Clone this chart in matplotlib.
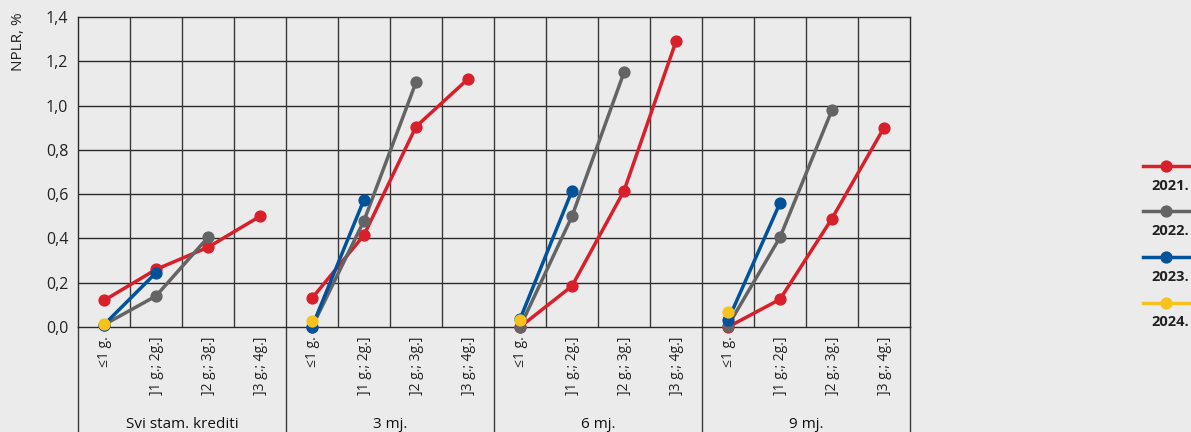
import numpy as np
import matplotlib
matplotlib.use("Agg")
import matplotlib.pyplot as plt
from matplotlib.lines import Line2D

plt.rcParams['font.family'] = ['Open Sans', 'DejaVu Sans']

groups = ['Svi stam. krediti', '3 mj.', '6 mj.', '9 mj.']
cats = ['≤1 g.', ']1 g.; 2g.]', ']2 g.; 3g.]', ']3 g.; 4g.]']
years = ['2021.', '2022.', '2023.', '2024.']
colors = ['#d81f2a', '#646464', '#00529b', '#f8c21c']

# values per year, per group (curves shorten for newer cohorts)
v2021 = [[0.12, 0.26, 0.36, 0.50],
         [0.13, 0.415, 0.905, 1.12],
         [0.0, 0.185, 0.615, 1.29],
         [0.0, 0.125, 0.49, 0.90]]
v2022 = [[0.01, 0.14, 0.405],
         [0.0, 0.48, 1.105],
         [0.0, 0.50, 1.15],
         [0.005, 0.405, 0.98]]
v2023 = [[0.01, 0.245],
         [0.0, 0.575],
         [0.035, 0.615],
         [0.03, 0.56]]
v2024 = [[0.015],
         [0.025],
         [0.03],
         [0.07]]
series = [v2021, v2022, v2023, v2024]

bg = '#ebebeb'
fig = plt.figure(figsize=(11.91, 4.32), dpi=100, facecolor=bg)
ax = fig.add_axes([78/1191, 1-327/432, (910-78)/1191, 310/432], facecolor=bg)

ncat = len(cats)
for yi, vals in enumerate(series):
    for gi, g in enumerate(vals):
        x = np.arange(len(g)) + gi * ncat
        ax.plot(x, g, color=colors[yi], lw=2.5, marker='o', ms=7.8,
                zorder=3 + yi, clip_on=False)

ax.set_xlim(-0.5, len(groups) * ncat - 0.5)
ax.set_ylim(0, 1.4)
ax.set_yticks(np.arange(0, 1.41, 0.2))
ax.set_yticklabels([f'{t:.1f}'.replace('.', ',') for t in np.arange(0, 1.41, 0.2)],
                   fontsize=11.5, color='#222222')
ax.set_xticks(np.arange(len(groups) * ncat))
ax.set_xticklabels(cats * len(groups), rotation=90, fontsize=10, color='#222222',
                   va='top')
ax.tick_params(axis='x', length=0, pad=7)
ax.tick_params(axis='y', length=0, pad=7)

for t in np.arange(0.2, 1.4, 0.2):
    ax.axhline(t, color='#2a2a2a', lw=1, zorder=1)
for b in np.arange(0.5, len(groups) * ncat - 0.5, 1):
    ax.axvline(b, color='#3a3a3a', lw=1, zorder=1)
for s in ax.spines.values():
    s.set_color('#2a2a2a')
    s.set_linewidth(1)

trans = ax.get_xaxis_transform()
for k in range(len(groups) + 1):
    xb = -0.5 + k * ncat
    ax.plot([xb, xb], [0, -105/310], color='#3a3a3a', lw=1, transform=trans,
            clip_on=False)
for gi, g in enumerate(groups):
    ax.text(gi * ncat + 1.5, -98/310, g, transform=trans, ha='center', va='center',
            fontsize=11, color='#111111')

fig.text(18/1191, 1-42/432, 'NPLR, %', rotation=90, ha='center', va='center',
         fontsize=11, color='#222222')

# legend: line with marker, label below
for i, (yr, c) in enumerate(zip(years, colors)):
    ly = 1 - (166 + i * 45.5) / 432
    fig.add_artist(Line2D([1143/1191, 1189/1191], [ly, ly], color=c, lw=2.5,
                          transform=fig.transFigure))
    fig.add_artist(Line2D([1166/1191], [ly], color=c, marker='o', ms=7.8, lw=0,
                          transform=fig.transFigure))
    fig.text(1189/1191, ly - 20/432, yr, ha='right', va='center', fontsize=10.5,
             fontweight='bold', color='#222222')

fig.savefig('out.png', dpi=100, facecolor=bg)
